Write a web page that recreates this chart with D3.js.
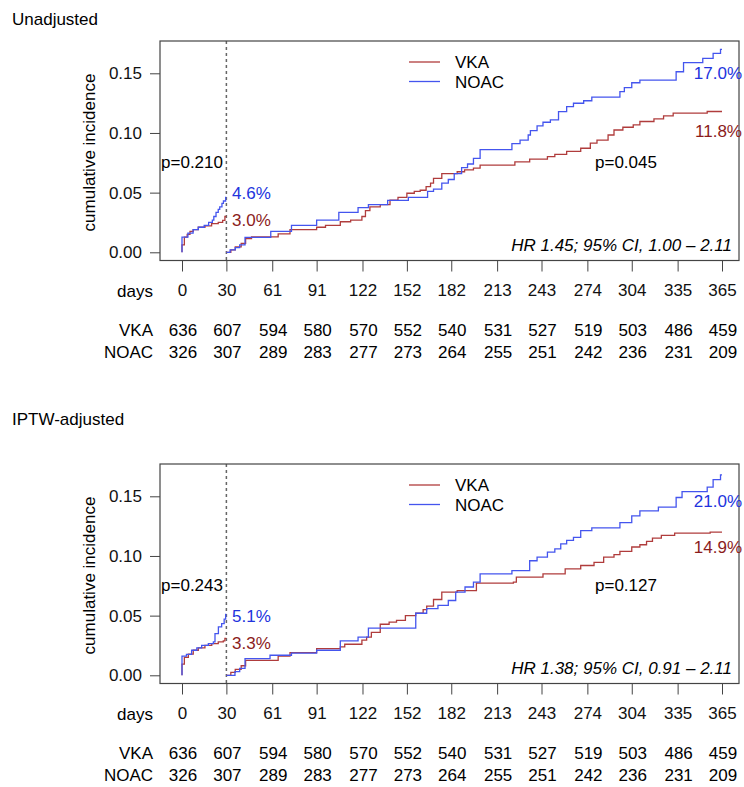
<!DOCTYPE html>
<html lang="en">
<head>
<meta charset="utf-8">
<title>Cumulative incidence, VKA vs NOAC</title>
<script src="https://cdn.jsdelivr.net/npm/d3@7"></script>
<style>
  body { margin: 0; background: #fff; }
  svg text { font-family: "Liberation Sans", Arial, Helvetica, sans-serif; font-size: 17px; }
</style>
</head>
<body>
<script>

// days on the x axis (also the risk table columns)
var tickDays = [0, 30, 61, 91, 122, 152, 182, 213, 243, 274, 304, 335, 365];
var yTicks = [0, 0.05, 0.10, 0.15];
var groups = ["VKA", "NOAC"];

// numbers at risk, same for both panels
var atRiskVKA = [636, 607, 594, 580, 570, 552, 540, 531, 527, 519, 503, 486, 459];
var atRiskNOAC = [326, 307, 289, 283, 277, 273, 264, 255, 251, 242, 236, 231, 209];

// Unadjusted, [day, cumulative incidence]
var vkaEarlyU = [[0, 0], [0, 0.0063], [1.6, 0.0127], [3.5, 0.015], [5.4, 0.0175], [7.6, 0.019],
  [11, 0.021], [15.5, 0.0222], [20, 0.024], [24.5, 0.025], [27.5, 0.0267], [29, 0.030], [30, 0.030]];
var noacEarlyU = [[0, 0], [0, 0.0127], [4, 0.016], [7.5, 0.019], [11, 0.021], [15, 0.0225],
  [18, 0.025], [20.5, 0.027], [21.5, 0.030], [23, 0.0335], [24.5, 0.036], [25.5, 0.038],
  [27, 0.041], [28, 0.043], [29.5, 0.046], [30, 0.046]];
var vkaLateU = [[30, 0], [33, 0.002], [36, 0.0045], [40, 0.0075], [43, 0.0115], [47, 0.013],
  [65, 0.0155], [73, 0.019], [91, 0.021], [97, 0.0225], [107, 0.0256], [114, 0.027],
  [121.6, 0.030], [124, 0.035], [127, 0.038], [134, 0.040], [140.6, 0.0437], [146, 0.046],
  [152, 0.0495], [157, 0.051], [161, 0.052], [165, 0.055], [168, 0.058], [170, 0.062],
  [175.6, 0.066], [186, 0.0675], [191, 0.069], [197, 0.0705], [201.5, 0.073], [225, 0.0758],
  [235, 0.078], [247, 0.0801], [252, 0.082], [260, 0.0845], [269.5, 0.0872], [276, 0.0915],
  [280.5, 0.094], [288, 0.0983], [292, 0.1025], [298, 0.1048], [305, 0.1068], [309.5, 0.1096],
  [319, 0.1118], [325.5, 0.1143], [332, 0.1166], [355, 0.118], [365, 0.118]];
var noacLateU = [[30, 0], [32.5, 0.002], [36, 0.004], [39, 0.0062], [42.6, 0.0125], [60, 0.0175],
  [74, 0.0225], [91, 0.027], [106, 0.0335], [119, 0.0375], [126, 0.040], [139, 0.0435],
  [153, 0.046], [166, 0.051], [170, 0.053], [175.6, 0.058], [180, 0.061], [184, 0.066],
  [189, 0.071], [193, 0.074], [197, 0.0787], [201.5, 0.086], [223, 0.091], [228.5, 0.094],
  [234, 0.0983], [235.5, 0.102], [240, 0.1059], [244, 0.109], [249, 0.111], [254.5, 0.1179],
  [260, 0.122], [264.6, 0.1249], [271.5, 0.127], [277, 0.130], [296, 0.1346], [299, 0.138],
  [304, 0.1421], [309.5, 0.1443], [334, 0.1513], [339, 0.1589], [352, 0.1625], [359, 0.1667],
  [364, 0.170], [365, 0.170]];

// IPTW-adjusted
var vkaEarlyW = [[0, 0], [0, 0.0094], [1.6, 0.015], [4.3, 0.0177], [7.6, 0.021], [11, 0.023],
  [15.5, 0.025], [20.1, 0.0266], [24.5, 0.028], [27.9, 0.0289], [29, 0.031], [30, 0.031]];
var noacEarlyW = [[0, 0], [0, 0.016], [3, 0.0175], [6.5, 0.021], [10, 0.023], [13.3, 0.025],
  [17.8, 0.0266], [21.2, 0.028], [22.3, 0.035], [24.6, 0.0405], [26.8, 0.0433], [28.5, 0.047],
  [29.5, 0.051], [30, 0.051]];
var vkaLateW = [[30, 0], [33, 0.0025], [36, 0.005], [40, 0.008], [43, 0.0125], [65, 0.016],
  [73, 0.019], [91, 0.0223], [107, 0.0238], [110, 0.026], [121.6, 0.0294], [124.8, 0.032],
  [128, 0.036], [134, 0.0428], [140, 0.0446], [145, 0.046], [151, 0.050], [158, 0.052],
  [163, 0.055], [165.4, 0.058], [170, 0.0635], [175.6, 0.0697], [186, 0.071], [199, 0.0772],
  [224, 0.078], [226, 0.0822], [244, 0.085], [259, 0.0892], [269.5, 0.092], [278.5, 0.0947],
  [285, 0.099], [292, 0.1011], [296, 0.1039], [304, 0.1075], [309.5, 0.1094], [314, 0.1122],
  [318, 0.115], [324, 0.1172], [333, 0.1192], [357, 0.120], [365, 0.120]];
var noacLateW = [[30, 0], [35.8, 0.003], [39, 0.0058], [42.6, 0.014], [59.5, 0.0168], [74, 0.0186],
  [91, 0.021], [107, 0.0288], [119, 0.032], [126, 0.0395], [158, 0.052], [165.4, 0.0558],
  [173, 0.0586], [180, 0.0627], [185, 0.0697], [191.3, 0.074], [197, 0.078], [201.5, 0.085],
  [223, 0.0878], [235, 0.096], [240, 0.099], [247, 0.1033], [252, 0.106], [256, 0.1102],
  [260, 0.113], [264.6, 0.1155], [269.5, 0.1213], [277, 0.1235], [296, 0.128], [304, 0.1336],
  [309.5, 0.1378], [322, 0.141], [334, 0.149], [338, 0.154], [355, 0.1577], [359, 0.164],
  [364, 0.168], [365, 0.168]];

// annotation texts
var textsU = { early: ["4.6%", "3.0%"], late: ["17.0%", "11.8%"], p: ["p=0.210", "p=0.045"],
  hr: "HR 1.45; 95% CI, 1.00 \u2013 2.11" };
var textsW = { early: ["5.1%", "3.3%"], late: ["21.0%", "14.9%"], p: ["p=0.243", "p=0.127"],
  hr: "HR 1.38; 95% CI, 0.91 \u2013 2.11" };

var vkaLine = "#b03c3c", noacLine = "#4455ee";
var vkaText = "#8b1c1c", noacText = "#2233dd";

var w = 744, h = 787;
var svg = d3.select("body").append("svg")
  .attr("width", w)
  .attr("height", h);

svg.append("rect").attr("width", w).attr("height", h).attr("fill", "#fff");

// box and scales (same for both panels, second one shifted down)
var boxL = 160, boxR = 739, boxT = 41, boxB = 260.5;
var x = d3.scaleLinear().domain([0, 365]).range([182, 722]);
var y = d3.scaleLinear().domain([0, 0.15]).range([252.3, 73.3]);

var line = d3.line()
  .x(function(d) { return x(d[0]); })
  .y(function(d) { return y(d[1]); })
  .curve(d3.curveStepAfter);

svg.append("text").attr("x", 12).attr("y", 25).text("Unadjusted");
svg.append("text").attr("x", 12).attr("y", 425).text("IPTW-adjusted");

function drawPanel(dy, series, t, lateY) {
  var g = svg.append("g").attr("transform", "translate(0," + dy + ")");

  //y axis ticks and labels
  var yAxis = g.append("g")
    .attr("transform", "translate(" + boxL + ",0)")
    .call(d3.axisLeft(y).tickValues(yTicks).tickSize(10).tickPadding(8)
      .tickFormat(d3.format(".2f")));
  yAxis.select(".domain").remove();
  yAxis.selectAll("line").attr("stroke", "#444");
  yAxis.selectAll("text").attr("font-size", "17px").attr("font-family", null).attr("fill", "#111");

  //x axis ticks; the labels make the "days" row
  var xAxis = g.append("g")
    .attr("transform", "translate(0," + boxB + ")")
    .call(d3.axisBottom(x).tickValues(tickDays).tickSize(11).tickPadding(12)
      .tickFormat(d3.format("d")));
  xAxis.select(".domain").remove();
  xAxis.selectAll("line").attr("stroke", "#444");
  xAxis.selectAll("text").attr("font-size", "17px").attr("font-family", null).attr("fill", "#111");

  g.append("text").attr("x", 153).attr("y", 297).attr("text-anchor", "end").text("days");

  g.append("text")
    .attr("transform", "translate(95,152.5) rotate(-90)")
    .attr("text-anchor", "middle")
    .text("cumulative incidence");

  //risk table
  var rows = [atRiskVKA, atRiskNOAC];
  rows.forEach(function(vals, r) {
    var ry = 336 + r * 22;
    g.append("text").attr("x", 153).attr("y", ry).attr("text-anchor", "end").text(groups[r]);
    g.selectAll(".risk" + r)
      .data(vals)
      .enter()
      .append("text")
      .attr("class", "risk" + r)
      .attr("text-anchor", "middle")
      .attr("x", function(d, i) { return x(tickDays[i]) + 1; })
      .attr("y", ry)
      .text(function(d) { return d; });
  });

  //landmark at day 30
  g.append("line")
    .attr("x1", x(30)).attr("x2", x(30))
    .attr("y1", boxT).attr("y2", boxB)
    .attr("stroke", "#666")
    .attr("stroke-width", 1.5)
    .attr("stroke-dasharray", "3,3");

  //curves
  series.forEach(function(s) {
    g.append("path")
      .attr("d", line(s.data))
      .attr("fill", "none")
      .attr("stroke", s.color)
      .attr("stroke-width", 1.3);
  });

  //box
  g.append("rect")
    .attr("x", boxL).attr("y", boxT)
    .attr("width", boxR - boxL).attr("height", boxB - boxT)
    .attr("fill", "none")
    .attr("stroke", "#444")
    .attr("stroke-width", 1.2);

  //legend
  [vkaLine, noacLine].forEach(function(c, i) {
    g.append("line")
      .attr("x1", 409).attr("x2", 440)
      .attr("y1", 62 + i * 19.5).attr("y2", 62 + i * 19.5)
      .attr("stroke", c).attr("stroke-width", 1.3);
    g.append("text").attr("x", 455).attr("y", 68 + i * 20).text(groups[i]);
  });

  //annotations
  g.append("text").attr("x", 232).attr("y", 199).attr("fill", noacText).text(t.early[0]);
  g.append("text").attr("x", 232).attr("y", 226).attr("fill", vkaText).text(t.early[1]);
  g.append("text").attr("x", 742).attr("y", lateY[0]).attr("text-anchor", "end")
    .attr("fill", noacText).text(t.late[0]);
  g.append("text").attr("x", 742).attr("y", lateY[1]).attr("text-anchor", "end")
    .attr("fill", vkaText).text(t.late[1]);
  g.append("text").attr("x", 223).attr("y", 168).attr("text-anchor", "end").text(t.p[0]);
  g.append("text").attr("x", 595).attr("y", 168).text(t.p[1]);
  g.append("text").attr("x", 732).attr("y", 250.5).attr("text-anchor", "end")
    .attr("font-style", "italic").text(t.hr);
}

drawPanel(0, [
  { data: vkaEarlyU, color: vkaLine }, { data: noacEarlyU, color: noacLine },
  { data: vkaLateU, color: vkaLine }, { data: noacLateU, color: noacLine }
], textsU, [78.5, 137]);

drawPanel(423, [
  { data: vkaEarlyW, color: vkaLine }, { data: noacEarlyW, color: noacLine },
  { data: vkaLateW, color: vkaLine }, { data: noacLateW, color: noacLine }
], textsW, [83.5, 130]);

</script>
</body>
</html>
